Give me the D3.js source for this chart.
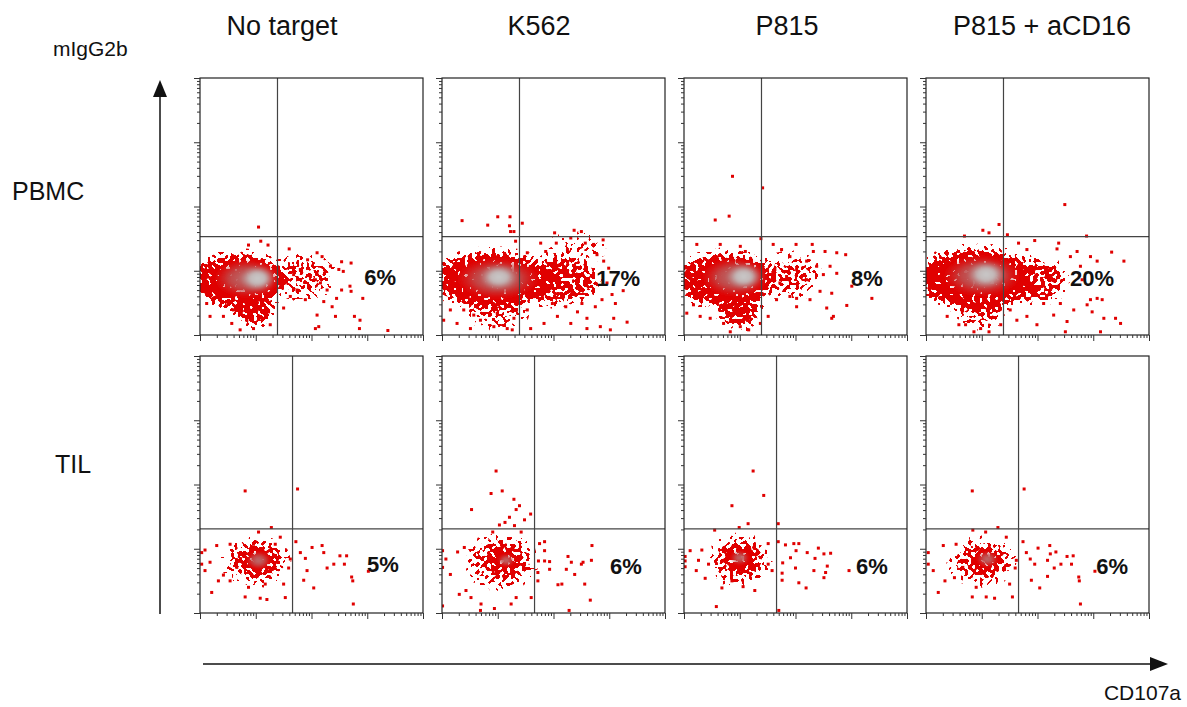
<!DOCTYPE html>
<meta charset="utf-8">
<style>
body { margin: 0; background: #fff; }
text { font-family: "Liberation Sans", Arial, sans-serif; fill: #111; }
.pct { font-weight: bold; font-size: 22px; }
.colTitle { font-size: 27px; }
.rowTitle { font-size: 25px; }
.axisName { font-size: 21px; }
.tick line { stroke: #333; }
</style>
<svg id="chart" width="1187" height="707"></svg>
<script src="https://cdn.jsdelivr.net/npm/d3@7"></script>
<script>

// ---- data (all coordinates in log10 units, 0..4 decades) ----
const columns = ["No target", "K562", "P815", "P815 + aCD16"]
const rowNames = ["PBMC", "TIL"]
const percents = [["6%", "17%", "8%", "20%"], ["5%", "6%", "6%", "6%"]]
const gateX = [1.39, 1.66]   // CD107a gate per row
const gateY = [1.53, 1.31]   // mIgG2b gate per row

// population density outlines: [cx, cy, rx, ry, density 0..1]
const clouds = [
  [
    [[0.7, 0.85, 0.8, 0.4, 1], [0.95, 0.42, 0.35, 0.25, 0.9], [1.85, 0.92, 0.55, 0.32, 0.5]],
    [[0.9, 0.86, 1.0, 0.42, 1], [2.05, 0.85, 0.75, 0.35, 0.75], [2.4, 1.35, 0.5, 0.2, 0.3], [1.0, 0.35, 0.5, 0.2, 0.5]],
    [[0.75, 0.86, 0.85, 0.4, 1], [1.0, 0.42, 0.35, 0.28, 0.9], [1.9, 0.92, 0.5, 0.32, 0.5]],
    [[0.9, 0.88, 1.0, 0.45, 1], [1.9, 0.85, 0.6, 0.33, 0.7], [1.0, 0.4, 0.4, 0.25, 0.6]]
  ],
  [
    [[1.0, 0.8, 0.55, 0.33, 0.55], [1.05, 0.82, 0.3, 0.2, 0.9]],
    [[1.05, 0.8, 0.6, 0.38, 0.5], [1.1, 0.82, 0.3, 0.22, 0.8]],
    [[1.0, 0.82, 0.5, 0.35, 0.55], [1.02, 0.85, 0.28, 0.2, 0.85]],
    [[1.0, 0.8, 0.55, 0.33, 0.5], [1.05, 0.82, 0.3, 0.2, 0.85]]
  ]
]

// high density cores: [cx, cy, rx, ry, kind] kind 0 dark red, 1 grey
const cores = [
  [
    [[0.85, 0.88, 0.6, 0.3, 0], [1.03, 0.88, 0.32, 0.2, 1]],
    [[1.0, 0.88, 0.75, 0.32, 0], [1.02, 0.9, 0.35, 0.2, 1]],
    [[0.92, 0.9, 0.6, 0.3, 0], [1.07, 0.91, 0.32, 0.2, 1]],
    [[1.0, 0.92, 0.7, 0.32, 0], [1.08, 0.94, 0.35, 0.21, 1]]
  ],
  [
    [[1.05, 0.82, 0.22, 0.14, 0]],
    [[1.15, 0.82, 0.15, 0.1, 0]],
    [[1.0, 0.86, 0.17, 0.11, 0]],
    [[1.1, 0.84, 0.19, 0.12, 0]]
  ]
]

// scattered events outside the dense clouds
const events = [
  [
    [[1.05,1.68],[1.09,1.46],[0.87,1.40],[1.22,1.40],[1.60,1.34],[2.10,1.28],[2.19,1.22],[1.93,1.17],[2.54,1.14],[2.71,1.12],
     [2.34,1.07],[2.49,1.02],[2.57,0.99],[1.80,1.02],[1.68,0.94],[1.98,0.91],[2.07,0.86],[2.16,0.81],[2.28,0.70],[2.69,0.76],
     [2.71,0.68],[2.54,0.70],[2.45,0.57],[2.92,0.57],[2.37,0.44],[2.22,0.52],[2.10,0.31],[2.43,0.29],[2.77,0.29],[2.87,0.23],
     [2.13,0.13],[2.07,0.10],[2.86,0.10],[3.37,0.07],[1.74,0.70],[1.89,0.55],[1.50,0.42],[1.62,0.60],[1.53,0.81],[0.18,0.29],
     [0.42,0.29],[0.57,0.18],[0.72,0.08],[0.84,0.23],[0.96,0.10],[1.11,0.26],[1.23,0.36],[1.26,0.16],[0.60,0.39],[1.02,0.39],[0.12,0.49]],
    [[0.36,1.78],[0.82,1.71],[1.00,1.84],[1.22,1.84],[1.21,1.70],[1.23,1.61],[1.29,1.61],[1.44,1.74],[1.32,1.46],[2.02,1.59],
     [2.37,1.63],[2.50,1.61],[2.31,1.51],[1.77,1.43],[2.05,1.43],[2.57,1.43],[2.72,1.41],[2.89,1.48],[2.25,1.33],[1.86,1.30],
     [1.53,1.28],[2.78,1.25],[2.90,1.15],[2.99,1.04],[2.96,0.81],[3.05,0.63],[3.11,0.49],[3.25,0.69],[3.08,0.26],[3.32,0.20],
     [3.02,0.08],[2.84,0.13],[2.60,0.26],[2.43,0.36],[2.31,0.18],[2.60,0.10],[2.07,0.29],[1.83,0.18],[1.59,0.10],[1.53,0.39],
     [1.29,0.26],[1.17,0.10],[0.93,0.13],[0.69,0.23],[0.51,0.10],[0.27,0.18],[0.03,0.23],[0.15,0.39],[0.39,0.39],[0.57,0.31],
     [0.99,0.34],[1.26,0.08],[2.87,0.55],[2.75,0.44],[2.51,0.49],[2.22,0.44],[1.98,0.49]],
    [[0.87,2.47],[0.81,1.85],[0.56,1.79],[1.41,2.29],[1.38,1.50],[0.23,1.41],[0.65,1.41],[1.01,1.38],[1.10,1.30],[1.60,1.41],
     [1.75,1.33],[2.01,1.41],[2.30,1.41],[2.32,1.30],[2.53,1.30],[2.74,1.28],[2.90,1.25],[1.90,1.22],[2.20,1.15],[2.38,1.07],
     [2.62,1.07],[2.74,0.96],[2.50,0.94],[2.20,0.86],[2.02,1.02],[1.84,0.91],[1.72,0.81],[1.63,1.02],[3.01,0.76],[2.65,0.65],
     [2.44,0.68],[2.26,0.55],[2.02,0.44],[1.90,0.60],[2.56,0.42],[2.92,0.46],[3.37,0.57],[2.68,0.29],[2.65,0.26],[1.51,0.29],
     [1.37,0.18],[1.16,0.08],[1.01,0.13],[0.83,0.05],[0.71,0.18],[0.47,0.26],[0.29,0.29],[0.17,0.47],[0.05,0.34],[2.02,0.57],[1.66,0.55]],
    [[1.31,1.72],[1.02,1.63],[1.13,1.59],[0.69,1.54],[1.46,1.56],[2.49,2.03],[2.88,1.54],[1.66,1.43],[1.95,1.47],[2.38,1.43],
     [2.35,1.34],[1.81,1.33],[2.59,1.22],[2.71,1.30],[2.95,1.22],[3.07,1.15],[3.33,1.29],[3.55,1.15],[2.77,1.07],[2.80,0.86],
     [2.95,0.55],[3.07,0.57],[3.16,0.55],[2.89,0.47],[2.65,0.39],[2.98,0.36],[3.19,0.26],[3.40,0.26],[3.49,0.18],[2.53,0.21],
     [2.29,0.31],[2.50,0.05],[3.13,0.05],[1.99,0.16],[1.81,0.29],[1.63,0.23],[1.51,0.39],[1.34,0.16],[1.13,0.05],[0.98,0.10],
     [0.86,0.05],[0.71,0.16],[0.59,0.16],[0.38,0.29],[0.08,0.60],[2.11,0.49],[2.41,0.49]]
  ],
  [
    [[0.81,1.90],[1.75,1.93],[1.28,1.33],[1.05,1.26],[1.44,1.18],[1.72,1.11],[1.80,0.94],[1.89,0.85],[2.01,1.02],[2.19,1.05],
     [2.22,0.94],[2.28,0.70],[2.40,0.76],[2.51,0.89],[2.63,0.89],[2.59,0.76],[1.92,0.66],[1.86,0.51],[2.04,0.39],[2.72,0.56],
     [2.74,0.50],[2.75,0.14],[3.02,0.65],[1.59,0.70],[1.62,0.84],[1.50,0.45],[1.53,0.24],[1.20,0.21],[1.08,0.23],[0.81,0.25],
     [0.21,0.32],[0.09,0.66],[0.03,0.94],[0.03,0.76],[0.09,0.98],[0.30,1.05],[0.33,0.50],[0.42,0.59],[0.54,1.07],[0.54,0.50],
     [0.87,0.40],[1.17,0.45],[0.96,1.07],[1.35,1.07],[0.66,0.71],[0.18,0.79]],
    [[0.97,2.21],[0.88,1.86],[1.08,1.90],[1.29,1.77],[1.39,1.67],[0.53,1.61],[1.33,1.61],[1.59,1.54],[1.48,1.45],[1.21,1.49],
     [1.13,1.41],[1.03,1.37],[1.30,1.36],[1.42,1.26],[0.91,1.26],[1.75,1.08],[1.84,1.11],[1.84,0.97],[1.84,0.81],[1.73,0.81],
     [1.93,0.80],[1.93,0.68],[2.26,0.88],[2.32,0.79],[2.23,0.68],[2.38,0.60],[2.50,0.76],[2.53,0.79],[2.68,0.82],[2.69,1.05],
     [2.56,0.45],[2.08,0.44],[2.15,0.45],[2.66,0.20],[2.28,0.04],[1.72,0.63],[1.72,0.50],[1.60,0.24],[1.33,0.24],[1.24,0.14],
     [0.94,0.07],[0.69,0.04],[0.70,0.14],[0.52,0.24],[0.31,0.29],[0.43,0.35],[0.01,0.11],[0.15,0.60],[0.01,0.71],[0.01,0.97],
     [0.28,0.95],[0.07,0.84],[0.40,1.02]],
    [[1.24,2.21],[1.43,1.83],[0.86,1.67],[1.15,1.39],[0.99,1.33],[0.55,1.29],[1.69,1.39],[1.69,1.11],[1.82,1.06],[1.97,1.08],
     [2.06,1.08],[2.01,0.97],[2.21,0.94],[2.41,1.01],[2.51,0.92],[2.63,0.93],[2.35,0.85],[2.57,0.73],[1.77,0.78],[1.91,0.86],
     [2.00,0.70],[2.33,0.66],[2.51,0.55],[2.54,0.63],[2.06,0.47],[2.19,0.39],[2.96,0.66],[1.76,0.62],[1.76,0.51],[1.70,0.04],
     [1.27,0.35],[1.06,0.41],[0.58,0.10],[0.68,0.39],[0.86,0.50],[0.38,0.54],[0.22,0.66],[0.02,0.88],[0.02,0.72],[0.02,0.81],
     [0.11,0.97],[0.26,0.82],[0.32,0.98],[1.51,1.08],[1.51,0.76],[1.58,0.66],[0.44,0.76]],
    [[0.83,1.90],[1.76,1.93],[1.29,1.33],[1.07,1.26],[0.84,1.29],[1.44,1.18],[1.74,1.11],[2.01,1.01],[2.22,1.05],[2.33,0.95],
     [2.23,0.92],[2.53,0.88],[2.64,0.89],[2.18,0.82],[2.42,0.76],[2.61,0.76],[1.80,0.94],[1.87,0.84],[1.95,0.76],[2.30,0.70],
     [2.18,0.57],[2.74,0.56],[2.75,0.50],[3.03,0.65],[2.77,0.14],[2.04,0.39],[1.89,0.51],[1.60,0.70],[1.62,0.82],[1.50,0.45],
     [1.55,0.25],[1.23,0.23],[1.08,0.25],[0.83,0.25],[0.90,0.40],[0.22,0.32],[0.13,0.66],[0.04,0.76],[0.04,0.94],[0.31,1.05],
     [0.34,0.50],[0.51,0.55],[0.54,1.07],[0.66,0.71]]
  ]
]

// ---- layout ----
const panelLeft = [200, 442, 684, 926],
    panelTop = [78, 356],
    pw = 223,
    ph = 257
const pctPos = [[[3.23, 0.9], [3.16, 0.88], [3.28, 0.88], [2.98, 0.88]],
                [[3.28, 0.76], [3.30, 0.72], [3.37, 0.72], [3.34, 0.72]]]
const titleX = [282, 539, 787, 1042]

const svg = d3.select("#chart")
const defs = svg.append("defs")

// dot-plot texture: blurred outline thresholded against noise
function densityFilter(id, seed) {
  const f = defs.append("filter").attr("id", id)
      .attr("x", "-40%").attr("y", "-60%").attr("width", "180%").attr("height", "220%")
      .attr("color-interpolation-filters", "sRGB")
  f.append("feGaussianBlur").attr("in", "SourceAlpha").attr("stdDeviation", 4).attr("result", "b")
  f.append("feTurbulence").attr("type", "fractalNoise").attr("baseFrequency", 0.26)
      .attr("numOctaves", 1).attr("seed", seed).attr("result", "t")
  f.append("feColorMatrix").attr("in", "t").attr("type", "matrix")
      .attr("values", "0 0 0 0 0  0 0 0 0 0  0 0 0 0 0  2.6 0 0 0 -0.8").attr("result", "n")
  f.append("feComposite").attr("in", "b").attr("in2", "n").attr("operator", "arithmetic")
      .attr("k1", 0).attr("k2", 1).attr("k3", -1).attr("k4", -0.04).attr("result", "d")
  f.append("feComponentTransfer").attr("in", "d").attr("result", "m")
    .append("feFuncA").attr("type", "linear").attr("slope", 30).attr("intercept", 0)
  f.append("feFlood").attr("flood-color", "#e00000").attr("result", "red")
  f.append("feComposite").attr("in", "red").attr("in2", "m").attr("operator", "in")
}

const gDark = defs.append("radialGradient").attr("id", "dark")
gDark.append("stop").attr("offset", "0%").attr("stop-color", "#b87474")
gDark.append("stop").attr("offset", "55%").attr("stop-color", "#c04a4a").attr("stop-opacity", 0.9)
gDark.append("stop").attr("offset", "100%").attr("stop-color", "#d02828").attr("stop-opacity", 0)

const gCore = defs.append("radialGradient").attr("id", "core")
gCore.append("stop").attr("offset", "0%").attr("stop-color", "#c9c9c9")
gCore.append("stop").attr("offset", "45%").attr("stop-color", "#c2b6b6")
gCore.append("stop").attr("offset", "100%").attr("stop-color", "#b88484").attr("stop-opacity", 0)

defs.append("filter").attr("id", "soft")
  .append("feGaussianBlur").attr("stdDeviation", 1.5)

const x = d3.scaleLog().domain([1, 1e4]).range([0, pw])
const y = d3.scaleLog().domain([1, 1e4]).range([ph, 0])
const X = d => x(10 ** d), Y = d => y(10 ** d)

function ellipses(parent, data) {
  return parent.selectAll("ellipse")
    .data(data)
    .join("ellipse")
      .attr("cx", d => X(d[0]))
      .attr("cy", d => Y(d[1]))
      .attr("rx", d => X(d[0] + d[2]) - X(d[0]))
      .attr("ry", d => Y(d[1]) - Y(d[1] + d[3]))
}

rowNames.forEach((rname, r) => {
  columns.forEach((cname, c) => {
    const g = svg.append("g")
        .attr("transform", `translate(${panelLeft[c]}, ${panelTop[r]})`)

    defs.append("clipPath").attr("id", `clip${r}${c}`)
      .append("rect").attr("width", pw).attr("height", ph)
    densityFilter(`dens${r}${c}`, r * 4 + c + 3)

    const plot = g.append("g").attr("clip-path", `url(#clip${r}${c})`)

    ellipses(plot.append("g").attr("filter", `url(#dens${r}${c})`), clouds[r][c])
        .attr("fill", "#000")
        .attr("fill-opacity", d => d[4])

    ellipses(plot.append("g").attr("filter", "url(#soft)"), cores[r][c])
        .attr("fill", d => d[4] ? "url(#core)" : "url(#dark)")

    plot.selectAll("rect.ev")
      .data(events[r][c])
      .join("rect")
        .attr("class", "ev")
        .attr("x", d => X(d[0]) - 1.5)
        .attr("y", d => Y(d[1]) - 1.5)
        .attr("width", 3)
        .attr("height", 3)
        .attr("fill", "#e00000")

    // quadrant gates
    g.append("line")
        .attr("x1", X(gateX[r])).attr("x2", X(gateX[r]))
        .attr("y1", 0).attr("y2", ph)
        .attr("stroke", "#444").attr("stroke-width", 1.2)
    g.append("line")
        .attr("x1", 0).attr("x2", pw)
        .attr("y1", Y(gateY[r])).attr("y2", Y(gateY[r]))
        .attr("stroke", "#444").attr("stroke-width", 1.2)

    g.append("rect")
        .attr("width", pw).attr("height", ph)
        .attr("fill", "none").attr("stroke", "#222").attr("stroke-width", 1.2)

    // log axes, unlabeled
    const yAxis = g.append("g")
      .call(d3.axisLeft(y).tickValues(y.ticks()).tickSize(3).tickFormat(""))
    const xAxis = g.append("g")
        .attr("transform", `translate(0, ${ph})`)
      .call(d3.axisBottom(x).tickValues(x.ticks()).tickSize(3).tickFormat(""))
    yAxis.select(".domain").remove()
    xAxis.select(".domain").remove()
    yAxis.selectAll(".tick line").filter(d => Number.isInteger(Math.log10(d))).attr("x2", -6)
    xAxis.selectAll(".tick line").filter(d => Number.isInteger(Math.log10(d))).attr("y2", 6)

    g.append("text")
        .attr("class", "pct")
        .attr("x", X(pctPos[r][c][0]))
        .attr("y", Y(pctPos[r][c][1]))
        .attr("text-anchor", "middle")
        .attr("dominant-baseline", "central")
        .text(percents[r][c])
  })
})

// titles
svg.selectAll("text.colTitle")
  .data(columns)
  .join("text")
    .attr("class", "colTitle")
    .attr("x", (d, i) => titleX[i])
    .attr("y", 35)
    .attr("text-anchor", "middle")
    .text(d => d)

svg.append("text").attr("class", "rowTitle").attr("x", 12).attr("y", 200).text(rowNames[0])
svg.append("text").attr("class", "rowTitle").attr("x", 55).attr("y", 473).text(rowNames[1])

svg.append("text").attr("class", "axisName").attr("x", 53).attr("y", 56).text("mIgG2b")
svg.append("text").attr("class", "axisName").attr("x", 1181).attr("y", 700)
    .attr("text-anchor", "end").text("CD107a")

// axis arrows
svg.append("line").attr("x1", 160).attr("x2", 160).attr("y1", 614).attr("y2", 92)
    .attr("stroke", "#111").attr("stroke-width", 1.5)
svg.append("path").attr("d", "M160,80 L153,97 L167,97 Z").attr("fill", "#111")
svg.append("line").attr("x1", 203).attr("x2", 1155).attr("y1", 664).attr("y2", 664)
    .attr("stroke", "#111").attr("stroke-width", 1.5)
svg.append("path").attr("d", "M1168,664 L1150,657 L1150,671 Z").attr("fill", "#111")

</script>
